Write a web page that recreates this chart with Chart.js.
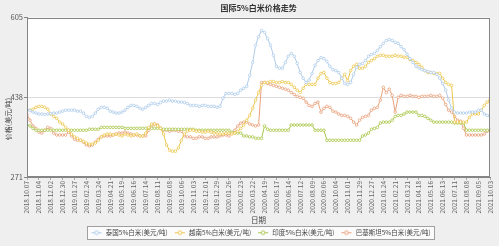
<!DOCTYPE html>
<html>
<head>
<meta charset="utf-8">
<script src="https://cdn.jsdelivr.net/npm/chart.js@4.4.1/dist/chart.umd.min.js"></script>
<style>
  html, body { margin: 0; padding: 0; background: #efefef; }
  #wrap { width: 499px; height: 246px; position: relative; }
</style>
</head>
<body>
<div id="wrap"><canvas id="chart-rice"></canvas></div>
<script>
// tick labels on the date axis, one every 4 weeks
var tickLabels = [
  '2018.10.07', '2018.11.04', '2018.12.02', '2018.12.30', '2019.01.27', '2019.02.24', '2019.03.24', '2019.04.21',
  '2019.05.19', '2019.06.16', '2019.07.14', '2019.08.11', '2019.09.08', '2019.10.06', '2019.11.03', '2019.12.01',
  '2019.12.29', '2020.01.26', '2020.02.23', '2020.03.22', '2020.04.19', '2020.05.17', '2020.06.14', '2020.07.12',
  '2020.08.09', '2020.09.06', '2020.10.04', '2020.11.01', '2020.11.29', '2020.12.27', '2021.01.24', '2021.02.21',
  '2021.03.21', '2021.04.18', '2021.05.16', '2021.06.13', '2021.07.11', '2021.08.08', '2021.09.05', '2021.10.03'
];
var yTicks = [271, 438, 605];

// weekly prices [USD/t]
var thailand = [
  412, 410, 407, 405, 403, 403, 402, 403, 404, 405,
  405, 407, 409, 411, 411, 411, 411, 409, 409, 405,
  398, 396, 398, 405, 413, 417, 417, 415, 409, 407,
  405, 405, 407, 411, 417, 421, 421, 419, 415, 413,
  417, 421, 425, 425, 423, 427, 430, 430, 432, 430,
  430, 428, 428, 427, 425, 421, 421, 421, 419, 421,
  421, 419, 419, 419, 417, 419, 436, 446, 446, 446,
  444, 446, 453, 457, 461, 484, 511, 547, 565, 578,
  574, 561, 547, 526, 503, 499, 499, 511, 524, 530,
  524, 509, 490, 478, 469, 474, 488, 505, 515, 521,
  519, 513, 503, 496, 494, 490, 478, 467, 465, 469,
  486, 501, 507, 509, 515, 524, 528, 530, 536, 544,
  551, 557, 559, 557, 553, 551, 544, 538, 528, 519,
  511, 503, 499, 496, 494, 492, 490, 490, 486, 478,
  467, 453, 432, 415, 407, 405, 405, 405, 405, 407,
  407, 407, 411, 411, 403, 400, 398
];
var vietnam = [
  411, 411, 413, 417, 419, 419, 417, 413, 403, 398,
  394, 386, 382, 375, 369, 361, 355, 352, 348, 346,
  342, 340, 340, 342, 348, 355, 359, 361, 361, 359,
  361, 359, 357, 361, 359, 357, 359, 361, 357, 357,
  363, 375, 382, 382, 378, 373, 361, 338, 327, 325,
  325, 332, 348, 361, 367, 369, 369, 367, 367, 365,
  365, 367, 365, 363, 363, 361, 361, 363, 363, 361,
  363, 367, 373, 380, 390, 400, 415, 432, 448, 463,
  469, 469, 471, 471, 469, 469, 471, 469, 469, 465,
  459, 453, 448, 457, 465, 465, 465, 465, 478, 488,
  490, 478, 469, 467, 467, 469, 478, 486, 473, 494,
  503, 507, 499, 499, 503, 511, 515, 519, 524, 526,
  526, 524, 524, 524, 526, 524, 524, 522, 522, 517,
  515, 511, 507, 501, 494, 490, 490, 488, 488, 488,
  478, 469, 465, 463, 386, 386, 386, 386, 386, 396,
  403, 403, 403, 411, 421, 428, 434
];
var india = [
  380, 378, 373, 369, 369, 369, 369, 369, 369, 369,
  369, 369, 369, 369, 369, 369, 369, 369, 369, 369,
  369, 371, 371, 371, 371, 375, 375, 375, 375, 375,
  375, 375, 375, 373, 373, 373, 373, 373, 373, 373,
  373, 373, 373, 373, 373, 373, 371, 371, 371, 371,
  371, 371, 371, 371, 371, 371, 371, 369, 369, 369,
  369, 369, 369, 369, 369, 369, 369, 369, 369, 365,
  363, 363, 363, 357, 357, 355, 355, 352, 352, 352,
  378, 371, 369, 369, 369, 369, 369, 369, 369, 380,
  380, 380, 380, 380, 380, 380, 380, 369, 369, 369,
  369, 348, 348, 348, 348, 348, 348, 348, 348, 348,
  348, 348, 348, 357, 359, 363, 371, 373, 375, 384,
  386, 386, 386, 390, 398, 400, 400, 403, 407, 407,
  407, 407, 400, 400, 398, 394, 390, 386, 386, 386,
  386, 386, 386, 386, 384, 384, 384, 384, 369, 369,
  369, 369, 369, 369, 369, 369, 369
];
var pakistan = [
  402, 390, 378, 373, 365, 363, 369, 375, 373, 363,
  359, 359, 359, 359, 365, 357, 350, 348, 348, 344,
  338, 336, 338, 344, 350, 355, 357, 357, 357, 359,
  361, 363, 363, 365, 363, 361, 359, 359, 357, 357,
  357, 369, 378, 382, 380, 373, 369, 369, 367, 369,
  369, 367, 367, 357, 355, 355, 352, 352, 355, 355,
  352, 352, 355, 355, 355, 357, 359, 359, 357, 363,
  369, 378, 384, 386, 386, 382, 380, 378, 380, 469,
  469, 467, 465, 463, 461, 459, 457, 455, 453, 448,
  444, 440, 438, 436, 428, 421, 419, 425, 428, 407,
  415, 419, 417, 409, 407, 403, 400, 400, 398, 394,
  386, 380, 390, 396, 398, 400, 411, 415, 417, 432,
  459, 448, 455, 442, 407, 438, 442, 440, 440, 442,
  440, 440, 438, 440, 440, 440, 442, 440, 440, 442,
  436, 423, 411, 407, 398, 390, 388, 373, 359, 359,
  359, 359, 359, 359, 361, 367, 369
];

var seriesNames = ['泰国5%白米(美元/吨)', '越南5%白米(美元/吨)', '印度5%白米(美元/吨)', '巴基斯坦5%白米(美元/吨)'];
var seriesColors = ['#aecbea', '#ecc64c', '#a9c64a', '#e9a07a'];
var chartTitle = '国际5%白米价格走势';
var yTitle = '价格(美元/吨)';
var xTitle = '日期';

var chart;

function toPoints(values) {
  return values.map(function(v, i) { return { x: i, y: v }; });
}

// little "-o-" swatch for the legend, with some blank room on its left
function legendMarker(color) {
  var c = document.createElement('canvas');
  c.width = 16; c.height = 7;
  var g = c.getContext('2d');
  g.strokeStyle = color;
  g.lineWidth = 1;
  g.beginPath(); g.moveTo(5, 3.5); g.lineTo(15, 3.5); g.stroke();
  g.fillStyle = '#ffffff';
  g.beginPath(); g.arc(10, 3.5, 1.8, 0, Math.PI * 2); g.fill(); g.stroke();
  return c;
}

var backdrop = {
  id: 'backdrop',
  beforeDraw: function(chart) {
    var ctx = chart.ctx, a = chart.chartArea;
    ctx.save();
    ctx.fillStyle = '#efefef';
    ctx.fillRect(0, 0, chart.width, chart.height);
    ctx.fillStyle = '#ffffff';
    ctx.fillRect(a.left, a.top, a.right - a.left, a.bottom - a.top);

    var boxes = chart.legend.legendHitBoxes;
    if (boxes && boxes.length) {
      var first = boxes[0], last = boxes[boxes.length - 1];
      var x0 = Math.round(first.left) + 0.5, x1 = Math.round(last.left + last.width) + 3.5;
      var y0 = Math.round(first.top) - 3.5, y1 = Math.round(first.top + first.height) + 3.5;
      ctx.fillStyle = '#fbfbfb';
      ctx.fillRect(x0, y0, x1 - x0, y1 - y0);
      ctx.strokeStyle = '#a0a0a0';
      ctx.lineWidth = 1;
      ctx.strokeRect(x0, y0, x1 - x0, y1 - y0);
    }
    ctx.restore();
  },
  afterDatasetsDraw: function(chart) {
    var ctx = chart.ctx, a = chart.chartArea;
    ctx.save();
    ctx.strokeStyle = '#858585';
    ctx.lineWidth = 1;
    ctx.strokeRect(Math.round(a.left) + 0.5, Math.round(a.top) + 0.5, Math.round(a.right - a.left) - 1, Math.round(a.bottom - a.top) - 1);
    // y axis title sits a little below the middle in the original
    ctx.translate(8, 119);
    ctx.rotate(-Math.PI / 2);
    ctx.fillStyle = '#444';
    ctx.font = '7px "Noto Sans CJK SC", sans-serif';
    ctx.textAlign = 'center';
    ctx.textBaseline = 'middle';
    ctx.fillText(yTitle, 0, 0);
    ctx.restore();
  }
};

function initChart() {
  Chart.defaults.font.family = '"Noto Sans CJK SC", "DejaVu Sans", sans-serif';
  var all = [thailand, vietnam, india, pakistan];
  var markers = seriesColors.map(legendMarker);

  var ctx = document.getElementById('chart-rice').getContext('2d');
  chart = new Chart(ctx, {
    type: 'line',
    data: {
      datasets: all.map(function(values, i) {
        return {
          label: seriesNames[i],
          data: toPoints(values),
          borderColor: seriesColors[i],
          backgroundColor: '#ffffff',
          borderWidth: 1,
          pointRadius: 1.3,
          pointBorderWidth: 0.8,
          pointBorderColor: seriesColors[i],
          pointBackgroundColor: '#ffffff',
          tension: 0
        };
      })
    },
    options: {
      responsive: true,
      maintainAspectRatio: false,
      animation: false,
      layout: { padding: { left: 0, right: 8, top: 0, bottom: 0 } },
      plugins: {
        title: {
          display: true,
          text: chartTitle,
          fullSize: false,
          color: '#333',
          font: { size: 8, weight: 'bold' },
          padding: { top: 3, bottom: 5 }
        },
        legend: {
          position: 'bottom',
          fullSize: false,
          labels: {
            usePointStyle: true,
            pointStyleWidth: 16,
            color: '#444',
            font: { size: 6.5 },
            padding: 2,
            generateLabels: function(chart) {
              var items = Chart.defaults.plugins.legend.labels.generateLabels(chart);
              items.forEach(function(it, i) { it.pointStyle = markers[i]; });
              return items;
            }
          }
        },
        tooltip: { enabled: false }
      },
      scales: {
        x: {
          type: 'linear',
          min: 0,
          max: (tickLabels.length - 1) * 4,
          afterBuildTicks: function(s) {
            s.ticks = tickLabels.map(function(t, i) { return { value: i * 4 }; });
          },
          ticks: {
            autoSkip: false,
            minRotation: 90,
            maxRotation: 90,
            color: '#666',
            font: { size: 6.5 },
            padding: 1,
            callback: function(v, i) { return tickLabels[i]; }
          },
          grid: { drawOnChartArea: false, tickLength: 3, color: '#aaa' },
          border: { color: '#858585' },
          title: { display: true, text: xTitle, color: '#444', font: { size: 7.5 }, padding: { top: 0, bottom: 2.5 } },
          afterFit: function(s) { s.height = 50.5; }
        },
        y: {
          min: yTicks[0],
          max: yTicks[yTicks.length - 1],
          afterBuildTicks: function(s) {
            s.ticks = yTicks.map(function(v) { return { value: v }; });
          },
          ticks: { color: '#555', font: { size: 7.5 }, padding: 1 },
          grid: {
            color: function(c) { return c.tick && c.tick.value === 438 ? '#dcdcdc' : 'rgba(0,0,0,0)'; },
            tickColor: '#858585',
            tickLength: 3
          },
          border: { color: '#858585' },
          afterFit: function(s) { s.width = 27; }
        }
      }
    },
    plugins: [backdrop]
  });
}

window.addEventListener('load', initChart);
</script>
</body>
</html>
